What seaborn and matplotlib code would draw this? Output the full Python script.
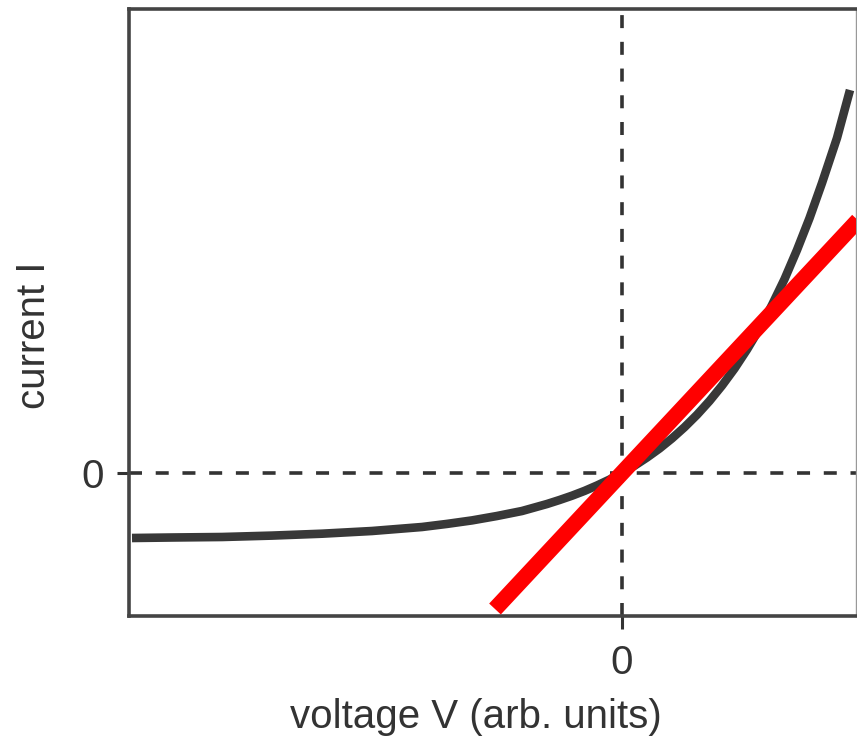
import matplotlib
matplotlib.use("Agg")
import matplotlib.pyplot as plt
import seaborn as sns
import pandas as pd

# Diode I-V curve (arbitrary units)
voltage = [-4.90, -4.50, -4.00, -3.50, -3.00, -2.50, -2.00, -1.75, -1.50, -1.25,
           -1.00, -0.875, -0.75, -0.625, -0.50, -0.375, -0.25, -0.125, 0.00, 0.125,
           0.25, 0.375, 0.50, 0.625, 0.75, 0.875, 1.00, 1.125, 1.25, 1.375,
           1.50, 1.625, 1.75, 1.875, 2.00, 2.15, 2.28]
current = [-0.65, -0.645, -0.64, -0.626, -0.607, -0.58, -0.54, -0.509, -0.474, -0.43,
           -0.38, -0.345, -0.31, -0.27, -0.227, -0.179, -0.125, -0.066, 0.00, 0.073,
           0.155, 0.245, 0.346, 0.458, 0.582, 0.72, 0.874, 1.044, 1.234, 1.444,
           1.68, 1.938, 2.23, 2.548, 2.90, 3.35, 3.83]

# Linear (ohmic) line in red
line_v = [-1.27, 2.40]
line_i = [-1.36, 2.57]

x_ticks = [0]
y_ticks = [0]
x_label = "voltage V (arb. units)"
y_label = "current I"

sns.set_theme(style="white")
plt.rcParams['font.family'] = ['Liberation Sans', 'DejaVu Sans']

fig = plt.figure(figsize=(8.57, 7.42), dpi=100)
ax = fig.add_axes([129/857, 1 - 616/742, (856-129)/857, (616-9)/742])

dash = (0, (3.6, 3.8))
ax.axhline(0, color="#333333", lw=2.6, ls=dash, zorder=1)
ax.axvline(0, color="#333333", lw=2.6, ls=dash, zorder=1)

df_curve = pd.DataFrame({"V": voltage, "I": current})
df_line = pd.DataFrame({"V": line_v, "I": line_i})
sns.lineplot(data=df_curve, x="V", y="I", ax=ax, color="#383838", lw=6.2,
             sort=False, estimator=None, solid_capstyle="butt",
             solid_joinstyle="round", zorder=2)
sns.lineplot(data=df_line, x="V", y="I", ax=ax, color="#ff0000", lw=11.5,
             sort=False, estimator=None, solid_capstyle="butt", zorder=3)

ax.set_xlim(-4.93, 2.34)
ax.set_ylim(-1.43, 4.64)
ax.set_xticks(x_ticks)
ax.set_yticks(y_ticks)
ax.set_xticklabels([str(t) for t in x_ticks])
ax.set_yticklabels([str(t) for t in y_ticks])

for side in ["left", "top", "bottom"]:
    ax.spines[side].set_visible(True)
    ax.spines[side].set_color("#444444")
    ax.spines[side].set_linewidth(2.6)
ax.spines["right"].set_color("#999999")
ax.spines["right"].set_linewidth(1.0)

ax.tick_params(axis="both", which="both", length=9, width=2.2, color="#333333",
               labelsize=29, labelcolor="#333333", direction="out",
               bottom=True, left=True)
ax.tick_params(axis="x", pad=11)
ax.tick_params(axis="y", pad=9)

ax.set_xlabel(x_label, fontsize=29, color="#333333")
ax.set_ylabel(y_label, fontsize=29, color="#333333")
ax.xaxis.set_label_coords(0.477, -0.135)
ax.yaxis.set_label_coords(-0.105, 0.463)

fig.savefig("out.png", dpi=100)
